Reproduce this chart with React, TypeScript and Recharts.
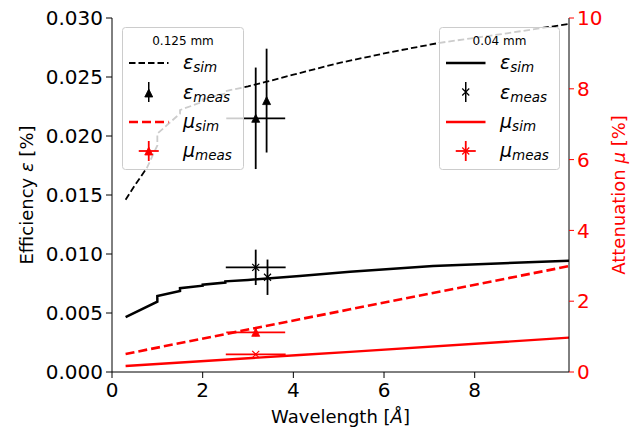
import React from 'react';
import { ComposedChart, Line, Scatter, XAxis, YAxis, ErrorBar, Legend } from 'recharts';

const FONT = '"DejaVu Sans", sans-serif';
const RED = '#ff0000';

const wavelengthTicks = [0, 2, 4, 6, 8];
const effTicks = [0, 0.005, 0.01, 0.015, 0.02, 0.025, 0.03];
const attTicks = [0, 2, 4, 6, 8, 10];

// Efficiency, 0.125 mm (dashed black)
const effSim125 = [
  { x: 0.3, y: 0.0146 }, { x: 0.5, y: 0.0158 }, { x: 0.77, y: 0.0173 },
  { x: 1.0, y: 0.0192 }, { x: 1.0, y: 0.0202 }, { x: 1.5, y: 0.0219 },
  { x: 1.5, y: 0.0222 }, { x: 2.0, y: 0.0229 }, { x: 2.0, y: 0.0231 },
  { x: 2.5, y: 0.0236 }, { x: 2.5, y: 0.0238 }, { x: 3.0, y: 0.0242 },
  { x: 3.41, y: 0.0246 }, { x: 4.0, y: 0.0252 }, { x: 5.02, y: 0.0262 },
  { x: 6.13, y: 0.0271 }, { x: 7.23, y: 0.0279 }, { x: 8.71, y: 0.0287 },
  { x: 10.08, y: 0.0295 },
];

// Efficiency, 0.04 mm (solid black)
const effSim04 = [
  { x: 0.3, y: 0.00465 }, { x: 1.0, y: 0.00596 }, { x: 1.0, y: 0.00644 },
  { x: 1.5, y: 0.00686 }, { x: 1.5, y: 0.0071 }, { x: 2.0, y: 0.00731 },
  { x: 2.0, y: 0.0074 }, { x: 2.5, y: 0.00758 }, { x: 2.5, y: 0.00768 },
  { x: 3.0, y: 0.0078 }, { x: 4.14, y: 0.00814 }, { x: 5.25, y: 0.0085 },
  { x: 7.08, y: 0.00898 }, { x: 8.5, y: 0.0092 }, { x: 10.08, y: 0.00943 },
];

// Attenuation (right axis)
const attSim125 = [
  { x: 0.3, y: 0.51 }, { x: 4.14, y: 1.49 }, { x: 5.25, y: 1.77 }, { x: 10.08, y: 2.99 },
];
const attSim04 = [
  { x: 0.3, y: 0.17 }, { x: 4.14, y: 0.48 }, { x: 5.25, y: 0.57 }, { x: 10.08, y: 0.97 },
];

// Measurements with errors
const effMeas125 = [
  { x: 3.17, y: 0.0215, ex: 0.65, ey: 0.0043 },
  { x: 3.41, y: 0.023, ex: 0, ey: 0.0044 },
];
const effMeas04 = [
  { x: 3.17, y: 0.00887, ex: 0.66, ey: 0.0015 },
  { x: 3.43, y: 0.00803, ex: 0, ey: 0.0015 },
];
const attMeas125 = [{ x: 3.17, y: 1.12, ex: 0.65, ey: 0.11 }];
const attMeas04 = [{ x: 3.17, y: 0.5, ex: 0.66, ey: 0.03 }];

const triangle = (color: string) => (props: any) => {
  const { cx, cy } = props;
  const s = 4;
  return <path d={`M${cx},${cy - s}L${cx + s},${cy + s}L${cx - s},${cy + s}Z`} fill={color} stroke={color} strokeWidth={0.8} />;
};
const cross = (color: string) => (props: any) => {
  const { cx, cy } = props;
  const s = 3.5;
  return (
    <path d={`M${cx - s},${cy - s}L${cx + s},${cy + s}M${cx - s},${cy + s}L${cx + s},${cy - s}`} stroke={color} strokeWidth={1.2} fill="none" />
  );
};

function MathText({ x, y, sym, sub }: { x: number; y: number; sym: string; sub: string }) {
  return (
    <text x={x} y={y} fontFamily={FONT} fontSize={19} fill="#000">
      <tspan fontStyle="italic">{sym}</tspan>
      <tspan fontStyle="italic" fontSize={13.5} dy={3}>{sub}</tspan>
    </text>
  );
}

function LegendBox({ x, w, title, dashed }: { x: number; w: number; title: string; dashed: boolean }) {
  const hx1 = x + 6.5;
  const hx2 = x + 46;
  const hc = (hx1 + hx2) / 2;
  const tx = x + 60.5;
  return (
    <g>
      <rect x={x} y={27.5} width={w} height={142} rx={3} ry={3} fill="#ffffff" fillOpacity={0.8} stroke="#cccccc" strokeWidth={1} />
      <text x={x + w / 2} y={45} textAnchor="middle" fontFamily={FONT} fontSize={12} fill="#000">{title}</text>
      <line x1={hx1} x2={hx2} y1={63} y2={63} stroke="#000" strokeWidth={dashed ? 1.8 : 2.5} strokeDasharray={dashed ? '6.5 3' : undefined} />
      <MathText x={tx} y={69} sym="ε" sub="sim" />
      <line x1={hc} x2={hc} y1={82} y2={102} stroke="#000" strokeWidth={1.5} />
      {dashed ? triangle('#000')({ cx: hc, cy: 93 }) : cross('#000')({ cx: hc, cy: 92 })}
      <MathText x={tx} y={99} sym="ε" sub="meas" />
      <line x1={hx1} x2={hx2} y1={122} y2={122} stroke={RED} strokeWidth={dashed ? 2.6 : 2.3} strokeDasharray={dashed ? '9 4' : undefined} />
      <MathText x={tx} y={128} sym="μ" sub="sim" />
      <line x1={hc - 10} x2={hc + 10} y1={151} y2={151} stroke={RED} strokeWidth={1.8} />
      <line x1={hc} x2={hc} y1={141} y2={161} stroke={RED} strokeWidth={1.8} />
      {dashed ? triangle(RED)({ cx: hc, cy: 151 }) : cross(RED)({ cx: hc, cy: 151 })}
      <MathText x={tx} y={157} sym="μ" sub="meas" />
    </g>
  );
}

const renderLegend = () => (
  <svg width={634} height={430} style={{ display: 'block' }}>
    <LegendBox x={122.5} w={121} title="0.125 mm" dashed={true} />
    <LegendBox x={439.5} w={120} title="0.04 mm" dashed={false} />
  </svg>
);

const leftLabel = () => (
  <text x={26} y={195} transform="rotate(-90 26 195)" textAnchor="middle" dominantBaseline="central" fontFamily={FONT} fontSize={18} fill="#000">
    Efficiency <tspan fontStyle="italic">ε</tspan> [%]
  </text>
);
const rightLabel = () => (
  <text x={618} y={195} transform="rotate(-90 618 195)" textAnchor="middle" dominantBaseline="central" fontFamily={FONT} fontSize={18} fill={RED}>
    Attenuation <tspan fontStyle="italic">μ</tspan> [%]
  </text>
);
const bottomLabel = () => (
  <text x={340.5} y={423} textAnchor="middle" fontFamily={FONT} fontSize={18} fill="#000">
    Wavelength [<tspan fontStyle="italic">Å</tspan>]
  </text>
);

const TICK_FONT = 20;

export default function App() {
  return (
    <div style={{ position: 'absolute', left: 0, top: 0, width: 634, height: 430, background: '#fff' }}>
      <ComposedChart width={634} height={430} margin={{ top: 18, right: 0, bottom: 0, left: 0 }}>
        <XAxis
          type="number"
          dataKey="x"
          domain={[0, 10.08]}
          allowDataOverflow
          ticks={wavelengthTicks}
          height={58}
          tickSize={6}
          tickMargin={5}
          stroke="#000"
          tick={{ fill: '#000', fontSize: TICK_FONT, fontFamily: FONT }}
          tickLine={{ stroke: '#000' }}
          axisLine={{ stroke: '#000' }}
          label={bottomLabel}
        />
        <XAxis
          xAxisId="top"
          orientation="top"
          type="number"
          dataKey="x"
          domain={[0, 10.08]}
          allowDataOverflow
          height={0}
          tick={false}
          tickLine={false}
          axisLine={{ stroke: '#000' }}
        />
        <YAxis
          yAxisId="eff"
          type="number"
          domain={[0, 0.03]}
          allowDataOverflow
          ticks={effTicks}
          width={112}
          tickSize={6}
          tickMargin={3}
          tickFormatter={(v: number) => v.toFixed(3)}
          tick={{ fill: '#000', fontSize: TICK_FONT, fontFamily: FONT }}
          tickLine={{ stroke: '#000' }}
          axisLine={{ stroke: '#000' }}
          label={leftLabel}
        />
        <YAxis
          yAxisId="att"
          orientation="right"
          type="number"
          domain={[0, 10]}
          allowDataOverflow
          ticks={attTicks}
          width={65}
          tickSize={5}
          tickMargin={3}
          tick={{ fill: RED, fontSize: TICK_FONT, fontFamily: FONT }}
          tickLine={{ stroke: RED }}
          axisLine={{ stroke: '#000' }}
          label={rightLabel}
        />
        <Line data={effSim125} dataKey="y" yAxisId="eff" type="linear" stroke="#000" strokeWidth={1.8} strokeDasharray="6.5 3" dot={false} isAnimationActive={false} />
        <Line data={effSim04} dataKey="y" yAxisId="eff" type="linear" stroke="#000" strokeWidth={2.5} dot={false} isAnimationActive={false} />
        <Line data={attSim125} dataKey="y" yAxisId="att" type="linear" stroke={RED} strokeWidth={2.6} strokeDasharray="9 4" dot={false} isAnimationActive={false} />
        <Line data={attSim04} dataKey="y" yAxisId="att" type="linear" stroke={RED} strokeWidth={2.3} dot={false} isAnimationActive={false} />
        <Scatter data={effMeas125} dataKey="y" yAxisId="eff" shape={triangle('#000')} isAnimationActive={false}>
          <ErrorBar dataKey="ey" direction="y" width={0} stroke="#000" strokeWidth={1.8} />
          <ErrorBar dataKey="ex" direction="x" width={0} stroke="#000" strokeWidth={1.8} />
        </Scatter>
        <Scatter data={effMeas04} dataKey="y" yAxisId="eff" shape={cross('#000')} isAnimationActive={false}>
          <ErrorBar dataKey="ey" direction="y" width={0} stroke="#000" strokeWidth={1.8} />
          <ErrorBar dataKey="ex" direction="x" width={0} stroke="#000" strokeWidth={1.8} />
        </Scatter>
        <Scatter data={attMeas125} dataKey="y" yAxisId="att" shape={triangle(RED)} isAnimationActive={false}>
          <ErrorBar dataKey="ey" direction="y" width={0} stroke={RED} strokeWidth={1.8} />
          <ErrorBar dataKey="ex" direction="x" width={0} stroke={RED} strokeWidth={1.8} />
        </Scatter>
        <Scatter data={attMeas04} dataKey="y" yAxisId="att" shape={cross(RED)} isAnimationActive={false}>
          <ErrorBar dataKey="ey" direction="y" width={0} stroke={RED} strokeWidth={1.8} />
          <ErrorBar dataKey="ex" direction="x" width={0} stroke={RED} strokeWidth={1.8} />
        </Scatter>
        <Legend
          content={renderLegend}
          layout="horizontal"
          verticalAlign="middle"
          align="center"
          wrapperStyle={{ left: 0, top: 0, width: 634, height: 430, pointerEvents: 'none', margin: 0, padding: 0 }}
        />
      </ComposedChart>
    </div>
  );
}
